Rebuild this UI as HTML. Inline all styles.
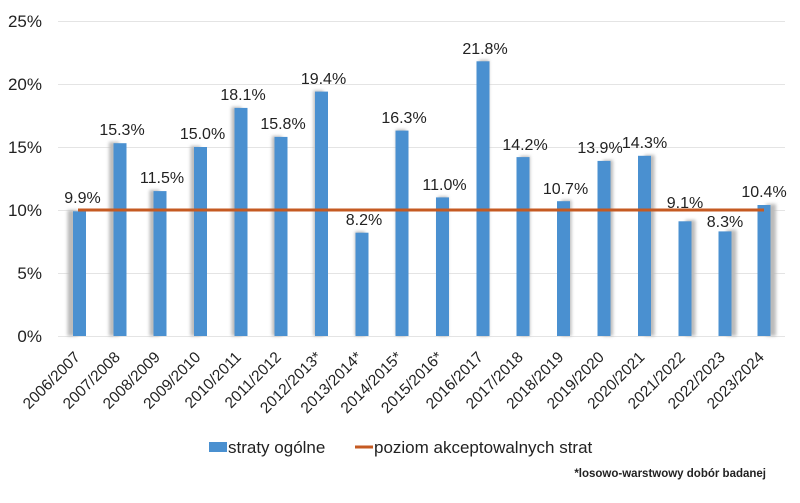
<!DOCTYPE html>
<html><head><meta charset="utf-8"><style>body{margin:0;background:#fff}svg{display:block}text{font-family:"Liberation Sans",sans-serif;fill:#222}</style></head>
<body>
<svg width="800" height="503" xmlns="http://www.w3.org/2000/svg">
<defs><filter id="b" x="-50%" y="-10%" width="200%" height="120%"><feGaussianBlur stdDeviation="1.5"/></filter></defs>
<g stroke="#e4e4e4" stroke-width="1">
<line x1="58" x2="785" y1="21.5" y2="21.5"/><line x1="58" x2="785" y1="84.5" y2="84.5"/><line x1="58" x2="785" y1="147.5" y2="147.5"/><line x1="58" x2="785" y1="210.5" y2="210.5"/><line x1="58" x2="785" y1="273.5" y2="273.5"/><line x1="58" x2="785" y1="336.5" y2="336.5"/>
</g>
<g font-size="17" text-anchor="end">
<text x="42" y="27">25%</text><text x="42" y="90">20%</text><text x="42" y="153">15%</text><text x="42" y="216">10%</text><text x="42" y="279">5%</text><text x="42" y="342">0%</text>
</g>
<g font-size="16" text-anchor="middle">
<g transform="translate(79.5,0)"><rect x="-12" y="210" width="10" height="126" fill="#bbb" filter="url(#b)"/><rect x="-6.5" y="211.3" width="13" height="124.7" fill="#4a90d0"/><text x="3" y="203">9.9%</text></g>
<g transform="translate(120,0)"><rect x="-11" y="142" width="10" height="194" fill="#bbb" filter="url(#b)"/><rect x="-6.5" y="143.2" width="13" height="192.8" fill="#4a90d0"/><text x="2" y="135">15.3%</text></g>
<g transform="translate(160,0)"><rect x="-10.5" y="190" width="10" height="146" fill="#bbb" filter="url(#b)"/><rect x="-6.5" y="191.1" width="13" height="144.9" fill="#4a90d0"/><text x="2" y="183">11.5%</text></g>
<g transform="translate(200.5,0)"><rect x="-10" y="146" width="10" height="190" fill="#bbb" filter="url(#b)"/><rect x="-6.5" y="147" width="13" height="189" fill="#4a90d0"/><text x="2" y="139">15.0%</text></g>
<g transform="translate(241,0)"><rect x="-9.5" y="107" width="10" height="229" fill="#bbb" filter="url(#b)"/><rect x="-6.5" y="107.9" width="13" height="228.1" fill="#4a90d0"/><text x="2" y="100">18.1%</text></g>
<g transform="translate(281,0)"><rect x="-9" y="136" width="10" height="200" fill="#bbb" filter="url(#b)"/><rect x="-6.5" y="136.9" width="13" height="199.1" fill="#4a90d0"/><text x="2" y="129">15.8%</text></g>
<g transform="translate(321.5,0)"><rect x="-8" y="90.5" width="10" height="245.5" fill="#bbb" filter="url(#b)"/><rect x="-6.5" y="91.6" width="13" height="244.4" fill="#4a90d0"/><text x="2" y="84">19.4%</text></g>
<g transform="translate(362,0)"><rect x="-7" y="231.5" width="10" height="104.5" fill="#bbb" filter="url(#b)"/><rect x="-6.5" y="232.7" width="13" height="103.3" fill="#4a90d0"/><text x="2" y="225">8.2%</text></g>
<g transform="translate(402,0)"><rect x="-6" y="129.5" width="10" height="206.5" fill="#bbb" filter="url(#b)"/><rect x="-6.5" y="130.6" width="13" height="205.4" fill="#4a90d0"/><text x="2" y="123">16.3%</text></g>
<g transform="translate(442.5,0)"><rect x="-4.5" y="196.5" width="10" height="139.5" fill="#bbb" filter="url(#b)"/><rect x="-6.5" y="197.4" width="13" height="138.6" fill="#4a90d0"/><text x="2" y="190">11.0%</text></g>
<g transform="translate(483,0)"><rect x="-4" y="60" width="10" height="276" fill="#bbb" filter="url(#b)"/><rect x="-6.5" y="61.3" width="13" height="274.7" fill="#4a90d0"/><text x="2" y="54">21.8%</text></g>
<g transform="translate(523,0)"><rect x="-3" y="156" width="10" height="180" fill="#bbb" filter="url(#b)"/><rect x="-6.5" y="157.1" width="13" height="178.9" fill="#4a90d0"/><text x="2" y="150">14.2%</text></g>
<g transform="translate(563.5,0)"><rect x="-2" y="200" width="10" height="136" fill="#bbb" filter="url(#b)"/><rect x="-6.5" y="201.2" width="13" height="134.8" fill="#4a90d0"/><text x="2" y="194">10.7%</text></g>
<g transform="translate(604,0)"><rect x="-1" y="160" width="10" height="176" fill="#bbb" filter="url(#b)"/><rect x="-6.5" y="160.9" width="13" height="175.1" fill="#4a90d0"/><text x="-4" y="153">13.9%</text></g>
<g transform="translate(644.5,0)"><rect x="0" y="155" width="10" height="181" fill="#bbb" filter="url(#b)"/><rect x="-6.5" y="155.8" width="13" height="180.2" fill="#4a90d0"/><text x="0" y="148">14.3%</text></g>
<g transform="translate(685,0)"><rect x="0.5" y="220" width="10" height="116" fill="#bbb" filter="url(#b)"/><rect x="-6.5" y="221.3" width="13" height="114.7" fill="#4a90d0"/><text x="0" y="208">9.1%</text></g>
<g transform="translate(725,0)"><rect x="1.5" y="230" width="10" height="106" fill="#bbb" filter="url(#b)"/><rect x="-6.5" y="231.4" width="13" height="104.6" fill="#4a90d0"/><text x="0" y="227">8.3%</text></g>
<g transform="translate(764,0)"><rect x="2" y="204" width="10" height="132" fill="#bbb" filter="url(#b)"/><rect x="-6.5" y="205" width="13" height="131" fill="#4a90d0"/><text x="0" y="197">10.4%</text></g>
</g>
<line x1="78" x2="764" y1="210" y2="210" stroke="#c55a22" stroke-width="3"/>
<g font-size="15.5" text-anchor="end">
<text transform="translate(81,358) rotate(-45)">2006/2007</text>
<text transform="translate(121,358) rotate(-45)">2007/2008</text>
<text transform="translate(161,358) rotate(-45)">2008/2009</text>
<text transform="translate(201.5,358) rotate(-45)">2009/2010</text>
<text transform="translate(242,358) rotate(-45)">2010/2011</text>
<text transform="translate(282,358) rotate(-45)">2011/2012</text>
<text transform="translate(322.5,358) rotate(-45)">2012/2013*</text>
<text transform="translate(363,358) rotate(-45)">2013/2014*</text>
<text transform="translate(403,358) rotate(-45)">2014/2015*</text>
<text transform="translate(443.5,358) rotate(-45)">2015/2016*</text>
<text transform="translate(484,358) rotate(-45)">2016/2017</text>
<text transform="translate(524,358) rotate(-45)">2017/2018</text>
<text transform="translate(564.5,358) rotate(-45)">2018/2019</text>
<text transform="translate(605,358) rotate(-45)">2019/2020</text>
<text transform="translate(645.5,358) rotate(-45)">2020/2021</text>
<text transform="translate(686,358) rotate(-45)">2021/2022</text>
<text transform="translate(726,358) rotate(-45)">2022/2023</text>
<text transform="translate(765,358) rotate(-45)">2023/2024</text>
</g>
<rect x="209" y="442" width="18" height="10" fill="#4a90d0"/>
<text x="228" y="453" font-size="17">straty ogólne</text>
<line x1="355" x2="373" y1="447" y2="447" stroke="#c55a22" stroke-width="3"/>
<text x="374" y="453" font-size="17">poziom akceptowalnych strat</text>
<text x="766" y="477" font-size="11.5" font-weight="bold" text-anchor="end">*losowo-warstwowy dobór badanej</text>
</svg>
</body></html>
